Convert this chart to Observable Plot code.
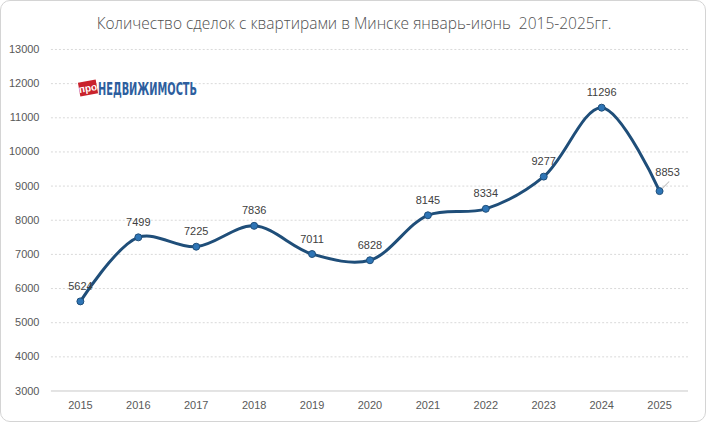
<!DOCTYPE html>
<html>
<head>
<meta charset="utf-8">
<script src="https://cdn.jsdelivr.net/npm/d3@7"></script>
<script src="https://cdn.jsdelivr.net/npm/@observablehq/plot@0.6"></script>
<style>
  html, body { margin: 0; padding: 0; background: #fff; }
  #frame { position: relative; width: 706px; height: 422px; box-sizing: border-box;
           border: 1px solid #d4d4d4; border-radius: 10px; overflow: hidden; background: #fff; }
  #title { position: absolute; left: 0; top: 11px; width: 706px; text-align: center; white-space: pre;
           font-family: "Open Sans", sans-serif; font-weight: 300; font-size: 15.5px; color: #505050; }
  #chart { position: absolute; left: -1px; top: 37px; }
  #logo { position: absolute; left: 75px; top: 74px; overflow: visible; }
</style>
</head>
<body>
<div id="frame">
  <div id="title">Количество сделок с квартирами в Минске январь-июнь  2015-2025гг.</div>
  <div id="chart"></div>
  <svg id="logo" width="200" height="26">
    <g transform="rotate(-10 12 13)">
      <rect x="3" y="6" width="18" height="14" fill="#c9222c"></rect>
      <text x="12" y="16.5" text-anchor="middle" font-family="Liberation Sans, sans-serif" font-weight="bold" font-size="10" fill="#fff">про</text>
    </g>
    <text x="22" y="20" font-family="Liberation Sans Narrow, DejaVu Sans Condensed, sans-serif" font-weight="bold" font-size="17" fill="#2d5e9e" textLength="99" lengthAdjust="spacingAndGlyphs">НЕДВИЖИМОСТЬ</text>
  </svg>
</div>
<script>
const years = [2015, 2016, 2017, 2018, 2019, 2020, 2021, 2022, 2023, 2024, 2025];
const deals = [5624, 7499, 7225, 7836, 7011, 6828, 8145, 8334, 9277, 11296, 8853];
const yTicks = [3000, 4000, 5000, 6000, 7000, 8000, 9000, 10000, 11000, 12000, 13000];

const data = years.map((y, i) => ({year: y, value: deals[i]}));
const last = data.slice(-1);
const rest = data.slice(0, -1);

const font = "Liberation Sans, Arial, sans-serif";

const chart = Plot.plot({
  width: 706,
  height: 383,
  marginTop: 11,
  marginBottom: 30,
  marginLeft: 51,
  marginRight: 17,
  style: {fontFamily: font, fontSize: "11px", color: "#595959", background: "transparent"},
  x: {domain: [2014.5, 2025.5], ticks: years, tickFormat: d => String(d), tickSize: 0, tickPadding: 10, label: null},
  y: {domain: [3000, 13000], ticks: yTicks, tickFormat: d => String(d), tickSize: 0, tickPadding: 12, label: null},
  marks: [
    Plot.ruleY(yTicks.filter(d => d > 3000), {stroke: "#d9d9d9", strokeDasharray: "2,2", strokeWidth: 1}),
    Plot.ruleY([3000], {stroke: "#c8c8c8", strokeWidth: 1}),
    Plot.line(data, {x: "year", y: "value", curve: "catmull-rom", stroke: "#1f4e79", strokeWidth: 3}),
    Plot.dot(data, {x: "year", y: "value", r: 3.5, fill: "#2e75b6", stroke: "#1f4e79", strokeWidth: 1}),
    Plot.text(rest, {x: "year", y: "value", text: d => String(d.value), dy: -15, fill: "#404040", fontSize: 11}),
    Plot.vector(last, {x: "year", y: "value", length: 9, rotate: 45, anchor: "start", dx: 3, dy: -3, stroke: "#bfbfbf", strokeWidth: 1, shape: {draw(ctx, l) { ctx.moveTo(0, 0); ctx.lineTo(0, -l); }}}),
    Plot.text(last, {x: "year", y: "value", text: d => String(d.value), dx: 8, dy: -19, fill: "#404040", fontSize: 11})
  ]
});
document.getElementById("chart").appendChild(chart);
</script>
</body>
</html>
